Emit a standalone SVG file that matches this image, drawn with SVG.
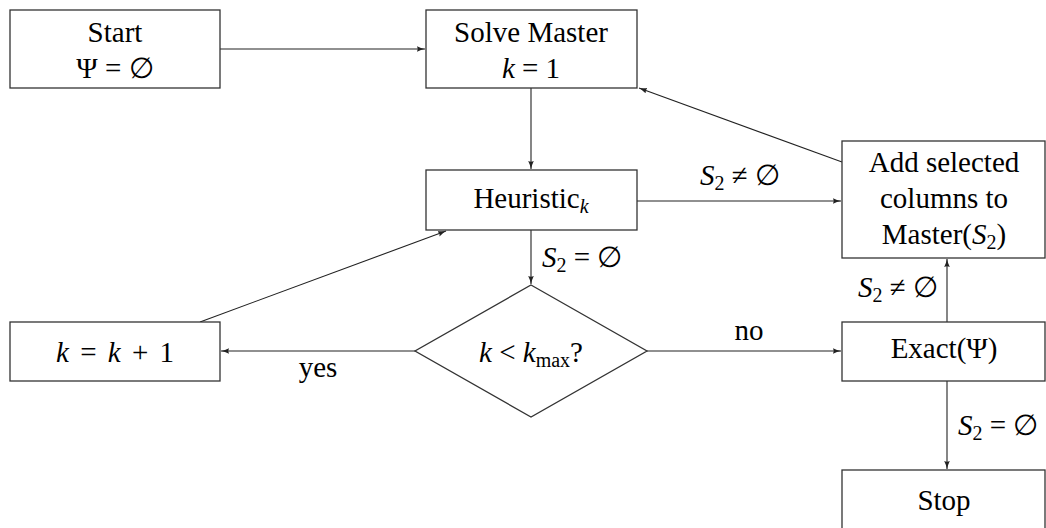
<svg xmlns="http://www.w3.org/2000/svg" width="1046" height="528" viewBox="0 0 1046 528">
<style>
.box{fill:#fff;stroke:#333;stroke-width:1.3}
.ln{fill:none;stroke:#222;stroke-width:1.1;marker-end:url(#ah)}
.t{font-family:"Liberation Serif","Tinos","Times New Roman","DejaVu Serif",serif;font-size:29px;fill:#000}
.c{text-anchor:middle}
.i{font-style:italic}
.n{font-style:normal}
.sub{font-size:20px}
</style>
<defs>
<marker id="ah" viewBox="0 0 10 10" refX="10" refY="5" markerWidth="8" markerHeight="8" markerUnits="userSpaceOnUse" orient="auto">
<path d="M0,1.5 Q5,4 10,5 Q5,6 0,8.5 Q2,5 0,1.5Z" fill="#222"/>
</marker>
</defs>
<g id="connectors">
<line class="ln" x1="220" y1="49" x2="425" y2="49"/>
<line class="ln" x1="531" y1="88" x2="531" y2="169"/>
<line class="ln" x1="637" y1="201" x2="841" y2="201"/>
<line class="ln" x1="842" y1="162" x2="639" y2="88"/>
<line class="ln" x1="531" y1="230" x2="531" y2="284"/>
<line class="ln" x1="415" y1="351" x2="221" y2="351"/>
<line class="ln" x1="647" y1="351" x2="841" y2="351"/>
<line class="ln" x1="200" y1="322" x2="446" y2="231"/>
<line class="ln" x1="947" y1="322" x2="947" y2="259"/>
<line class="ln" x1="947" y1="381" x2="947" y2="469"/>
<text class="t i" x="700" y="185">S<tspan class="sub n" dy="5">2</tspan><tspan class="n" dy="-5"> ≠ ∅</tspan></text>
<text class="t i" x="542" y="267">S<tspan class="sub n" dy="5">2</tspan><tspan class="n" dy="-5"> = ∅</tspan></text>
<text class="t i" x="858" y="297">S<tspan class="sub n" dy="5">2</tspan><tspan class="n" dy="-5"> ≠ ∅</tspan></text>
<text class="t i" x="958" y="435">S<tspan class="sub n" dy="5">2</tspan><tspan class="n" dy="-5"> = ∅</tspan></text>
<text class="t c" x="318" y="377">yes</text>
<text class="t c" x="749" y="340">no</text>
</g>
<g id="start">
<rect class="box" x="10" y="10" width="210" height="78"/>
<text class="t c" x="115" y="42">Start</text>
<text class="t c" x="115" y="78">Ψ = ∅</text>
</g>
<g id="solve">
<rect class="box" x="426" y="10" width="211" height="78"/>
<text class="t c" x="531" y="42">Solve Master</text>
<text class="t c" x="531" y="78"><tspan class="i">k</tspan>  =  1</text>
</g>
<g id="heuristic">
<rect class="box" x="426" y="170" width="211" height="60"/>
<text class="t c" x="531" y="208">Heuristic<tspan class="i sub" dy="5">k</tspan></text>
</g>
<g id="add">
<rect class="box" x="842" y="141" width="203" height="117"/>
<text class="t c" x="944" y="172">Add selected</text>
<text class="t c" x="944" y="208">columns to</text>
<text class="t c" x="944" y="244">Master(<tspan class="i">S</tspan><tspan class="sub" dy="5">2</tspan><tspan dy="-5">)</tspan></text>
</g>
<g id="decision">
<polygon class="box" points="531,285 647,351 531,417 415,351"/>
<text class="t c" x="531" y="362"><tspan class="i">k</tspan> &lt; <tspan class="i">k</tspan><tspan class="sub" dy="5">max</tspan><tspan dy="-5">?</tspan></text>
</g>
<g id="inc">
<rect class="box" x="10" y="322" width="210" height="59"/>
<text class="t c" x="115" y="362" word-spacing="4"><tspan class="i">k</tspan> = <tspan class="i">k</tspan> + 1</text>
</g>
<g id="exact">
<rect class="box" x="842" y="322" width="203" height="59"/>
<text class="t c" x="944" y="358">Exact(Ψ)</text>
</g>
<g id="stop">
<rect class="box" x="842" y="470" width="203" height="70"/>
<text class="t c" x="944" y="510">Stop</text>
</g>
</svg>
